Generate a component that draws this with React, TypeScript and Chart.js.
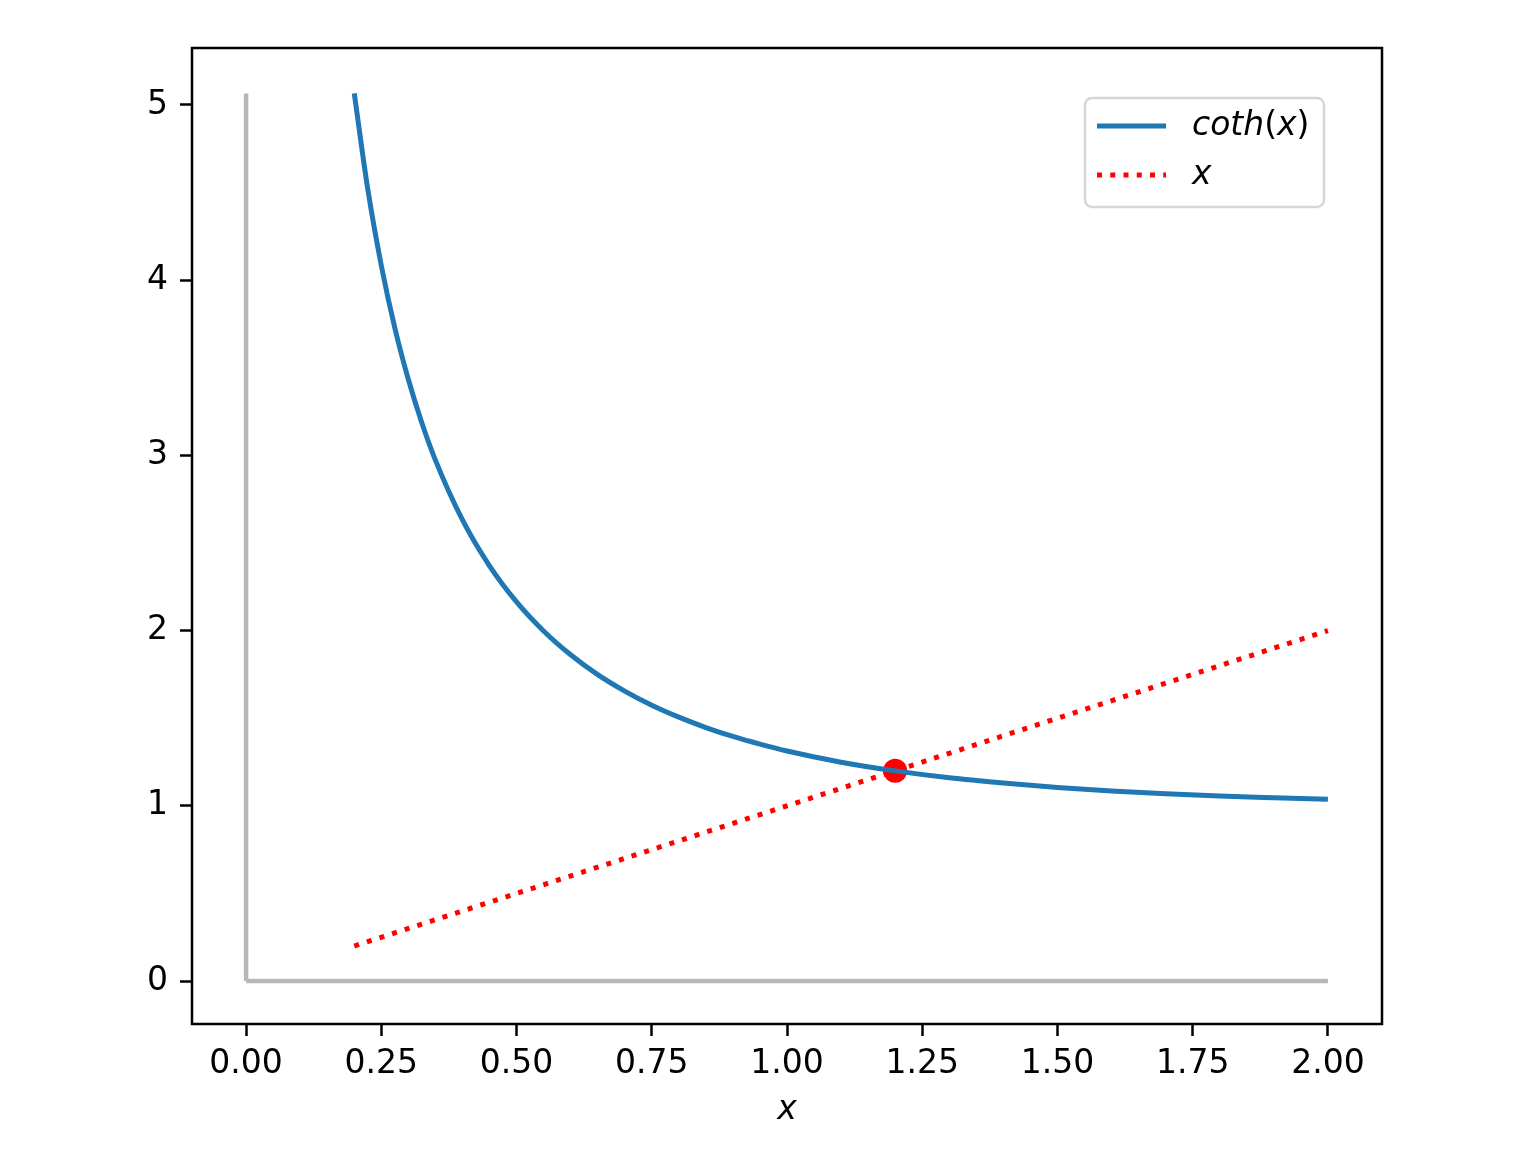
import React, { useEffect, useRef } from "react";
import { Chart, registerables } from "chart.js";

Chart.register(...registerables);

// coth(x) curve
const cothX = [0.2, 0.225, 0.25, 0.275, 0.3, 0.325, 0.35, 0.4, 0.45, 0.5, 0.55, 0.6, 0.65, 0.7, 0.75, 0.8, 0.85, 0.9, 0.95, 1.0, 1.1, 1.2, 1.3, 1.4, 1.5, 1.6, 1.7, 1.8, 1.9, 2.0];
const cothY = [5.066, 4.519, 4.083, 3.727, 3.433, 3.185, 2.973, 2.632, 2.370, 2.164, 1.998, 1.862, 1.749, 1.655, 1.574, 1.506, 1.447, 1.396, 1.352, 1.313, 1.249, 1.1995, 1.160, 1.130, 1.105, 1.085, 1.069, 1.056, 1.046, 1.037];

// y = x line
const lineX = [0.2, 2.0];
const lineY = [0.2, 2.0];

// gray axes lines
const vAxisX = [0, 0];
const vAxisY = [0, 5.066];
const hAxisX = [0, 2.0];
const hAxisY = [0, 0];

// intersection point
const pointX = [1.2];
const pointY = [1.2];

const xTicks = [0, 0.25, 0.5, 0.75, 1.0, 1.25, 1.5, 1.75, 2.0];
const yTicks = [0, 1, 2, 3, 4, 5];

const labels = ["coth(x)", "x"];

const FONT = "'DejaVu Sans', sans-serif";

const zip = (xs: number[], ys: number[]) => xs.map((x, i) => ({ x, y: ys[i] }));

const framePlugin = {
  id: "frame",
  afterDraw(chart: any) {
    const { ctx, chartArea } = chart;
    ctx.save();
    ctx.strokeStyle = "#000";
    ctx.lineWidth = 2.5;
    ctx.strokeRect(chartArea.left, chartArea.top, chartArea.right - chartArea.left, chartArea.bottom - chartArea.top);
    ctx.restore();
  },
};

// draw label in mathtext style: letters italic, parentheses upright
function drawMathLabel(ctx: any, text: string, x: number, y: number) {
  let cx = x;
  for (const ch of text) {
    const upright = ch === "(" || ch === ")";
    ctx.font = `${upright ? "" : "italic "}33px ${FONT}`;
    ctx.fillText(ch, cx, y);
    cx += ctx.measureText(ch).width;
  }
}

const legendPlugin = {
  id: "customLegend",
  afterDraw(chart: any) {
    const { ctx } = chart;
    const bx = 1085, by = 98, bw = 239, bh = 109, r = 7;
    ctx.save();
    ctx.beginPath();
    ctx.moveTo(bx + r, by);
    ctx.lineTo(bx + bw - r, by);
    ctx.arcTo(bx + bw, by, bx + bw, by + r, r);
    ctx.lineTo(bx + bw, by + bh - r);
    ctx.arcTo(bx + bw, by + bh, bx + bw - r, by + bh, r);
    ctx.lineTo(bx + r, by + bh);
    ctx.arcTo(bx, by + bh, bx, by + bh - r, r);
    ctx.lineTo(bx, by + r);
    ctx.arcTo(bx, by, bx + r, by, r);
    ctx.closePath();
    ctx.fillStyle = "rgba(255,255,255,0.8)";
    ctx.fill();
    ctx.strokeStyle = "#d6d6d6";
    ctx.lineWidth = 2.5;
    ctx.stroke();

    const ds = chart.data.datasets;
    const entries = [ds[2], ds[3]];
    const rows = [126, 175];
    entries.forEach((d: any, i: number) => {
      const y = rows[i];
      ctx.beginPath();
      ctx.strokeStyle = d.borderColor;
      ctx.lineWidth = d.borderWidth;
      ctx.lineCap = "butt";
      ctx.setLineDash(d.borderDash || []);
      ctx.moveTo(1097, y);
      ctx.lineTo(1166, y);
      ctx.stroke();
      ctx.setLineDash([]);
      ctx.fillStyle = "#000";
      ctx.textBaseline = "middle";
      ctx.textAlign = "left";
      drawMathLabel(ctx, labels[i], 1192, y);
    });
    ctx.restore();
  },
};

export default function App() {
  const ref = useRef<HTMLCanvasElement | null>(null);

  useEffect(() => {
    document.body.style.margin = "0";
    const canvas = ref.current!;
    const chart = new Chart(canvas, {
      type: "line",
      data: {
        datasets: [
          {
            label: "vaxis",
            data: zip(vAxisX, vAxisY),
            borderColor: "#b7b7b7",
            borderWidth: 4.5,
            borderCapStyle: "butt",
            pointRadius: 0,
            fill: false,
          },
          {
            label: "haxis",
            data: zip(hAxisX, hAxisY),
            borderColor: "#b7b7b7",
            borderWidth: 4.5,
            borderCapStyle: "butt",
            pointRadius: 0,
            fill: false,
          },
          {
            label: labels[0],
            data: zip(cothX, cothY),
            borderColor: "#1f77b4",
            borderWidth: 5,
            pointRadius: 0,
            cubicInterpolationMode: "monotone",
            fill: false,
          },
          {
            label: labels[1],
            data: zip(lineX, lineY),
            borderColor: "#ff0000",
            borderWidth: 5,
            borderDash: [5, 8.25],
            borderCapStyle: "butt",
            pointRadius: 0,
            fill: false,
          },
          {
            label: "pt",
            data: zip(pointX, pointY),
            borderColor: "#ff0000",
            backgroundColor: "#ff0000",
            showLine: false,
            pointRadius: 12,
            pointBorderWidth: 0,
          },
        ] as any,
      },
      options: {
        animation: false,
        responsive: false,
        devicePixelRatio: 1,
        layout: { padding: { left: 0, top: 48, right: 154, bottom: 0 } },
        plugins: {
          legend: { display: false },
          tooltip: { enabled: false },
        },
        scales: {
          x: {
            type: "linear",
            min: -0.1,
            max: 2.1,
            afterFit(scale: any) {
              scale.height = 128;
            },
            afterBuildTicks(scale: any) {
              scale.ticks = xTicks.map((v) => ({ value: v }));
            },
            grid: {
              drawOnChartArea: false,
              drawTicks: true,
              tickLength: 12,
              tickWidth: 2.5,
              tickColor: "#000",
            },
            border: { display: false },
            ticks: {
              color: "#000",
              padding: 9,
              maxRotation: 0,
              font: { family: FONT, size: 33 },
              callback: (v: any) => Number(v).toFixed(2),
            },
            title: {
              display: true,
              text: "x",
              color: "#000",
              font: { family: FONT, size: 33, style: "italic" },
              padding: { top: 0, bottom: 22 },
            },
          },
          y: {
            type: "linear",
            min: -0.245,
            max: 5.325,
            afterFit(scale: any) {
              scale.width = 192;
            },
            afterBuildTicks(scale: any) {
              scale.ticks = yTicks.map((v) => ({ value: v }));
            },
            grid: {
              drawOnChartArea: false,
              drawTicks: true,
              tickLength: 12,
              tickWidth: 2.5,
              tickColor: "#000",
            },
            border: { display: false },
            ticks: {
              color: "#000",
              padding: 12,
              font: { family: FONT, size: 33 },
              callback: (v: any) => String(v),
            },
          },
        },
      } as any,
      plugins: [framePlugin, legendPlugin],
    });
    return () => chart.destroy();
  }, []);

  return <canvas ref={ref} width={1536} height={1152} style={{ display: "block" }} />;
}
